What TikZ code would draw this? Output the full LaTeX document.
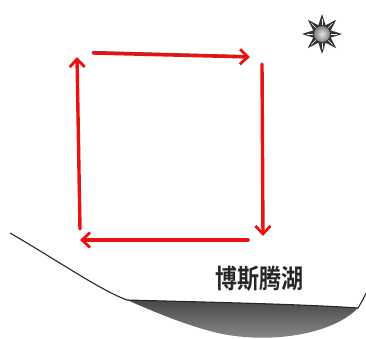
\documentclass[tikz,border=0pt]{standalone}
\usepackage{fontspec}
\newfontfamily\cjk{Noto Sans CJK SC}[BoldFont={Noto Sans CJK SC Bold}]
\usetikzlibrary{arrows.meta,calc}
\definecolor{flowred}{RGB}{232,18,18}
\tikzset{
  flow/.style={draw=flowred, line width=3.4pt, line cap=round,
    -{Straight Barb[length=8pt,width=15pt,line width=2.8pt]}},
  flowshadow/.style={draw=black!65, line width=1.2pt, line cap=round},
  ground/.style={draw=black!85, line width=1.1pt},
}
\begin{document}
\begin{tikzpicture}[x=1pt,y=-1pt]
  \useasboundingbox (0,0) rectangle (366,338);

  % corners of the circulation cell
  \coordinate (tl) at (93,53);
  \coordinate (tr) at (250,57);
  \coordinate (rt) at (262,64);
  \coordinate (rb) at (263,236);
  \coordinate (br) at (248,240);
  \coordinate (bl) at (80,240);
  \coordinate (lb) at (80,229);
  \coordinate (lt) at (77,57);

  % lake basin
  \shade[top color=black!72, bottom color=black!42]
     (127,300) .. controls (200,302) and (300,304) .. (358,308)
     .. controls (330,337) and (260,345) .. (210,331)
     .. controls (180,323) and (150,310) .. (127,300) -- cycle;
  \coordinate (g0) at (10,233);
  \coordinate (g1) at (127,300);
  \coordinate (g2) at (358,308);
  \coordinate (g3) at (366,293);
  \draw[ground] (g0) .. controls (60,262) and (100,290) .. (g1)
     .. controls (200,302) and (300,304) .. (g2)
     .. controls (361,303) and (364,298) .. (g3);

  \node[font=\cjk\bfseries\fontsize{22}{22}\selectfont, yscale=1.2, inner sep=0,
    text=black!85] (lake) at (259,279) {博斯腾湖};

  % sun
  \coordinate (sun) at (322,34);
  \foreach \a in {0,45,...,315}{
    \fill[black!80, rotate around={\a:(sun)}]
      ($(sun)+(6,-4.5)$) -- ($(sun)+(20,0)$) -- ($(sun)+(6,4.5)$) -- cycle;
    \draw[white, line width=0.6pt, rotate around={\a:(sun)}]
      ($(sun)+(9,0)$) -- ($(sun)+(15,0)$);
  }
  \shade[inner color=black!10, outer color=black!50] (sun) circle (8);

  % circulation arrows
  \draw[flowshadow] ([yshift=1.5]tl) -- ([yshift=1.5,xshift=-9]tr);
  \draw[flowshadow] ([yshift=1.5]br) -- ([yshift=1.5,xshift=9]bl);
  \draw[flow] (tl) -- (tr);
  \draw[flow] (rt) -- (rb);
  \draw[flow] (br) -- (bl);
  \draw[flow] (lb) -- (lt);
\end{tikzpicture}
\end{document}
